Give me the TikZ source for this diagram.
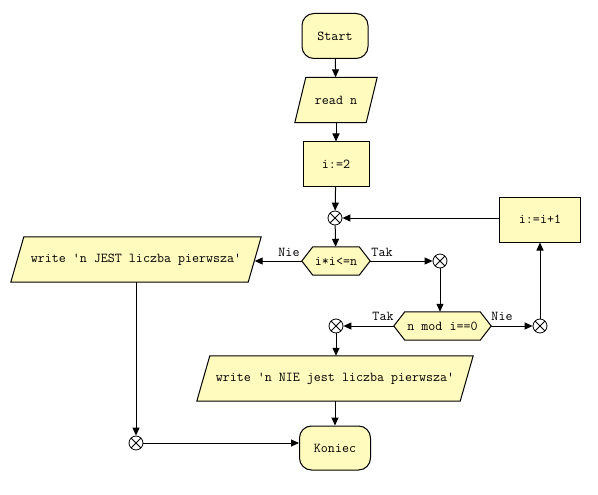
\documentclass[tikz,border=0pt]{standalone}
\usepackage{fontspec}
\usetikzlibrary{arrows.meta,backgrounds}
\definecolor{boxfill}{RGB}{255,250,190}
\begin{document}
\begin{tikzpicture}[x=1pt,y=-1pt,
  every node/.style={font=\ttfamily\fontsize{13.6}{15}\selectfont},
  base/.style={draw, line width=1pt, fill=boxfill, inner sep=0pt},
  term/.style={base, rounded corners=12pt, minimum width=66pt, minimum height=45pt},
  proc/.style={base, rectangle, minimum width=66pt, minimum height=44pt},
  io/.style={inner sep=0pt, minimum height=45pt},
  dec/.style={inner sep=0pt, minimum height=28pt},
  jn/.style={circle, draw, line width=0.8pt, fill=white, minimum size=14pt, inner sep=0pt,
    path picture={\draw[line width=0.8pt] (path picture bounding box.north west) -- (path picture bounding box.south east) (path picture bounding box.north east) -- (path picture bounding box.south west);}},
  conn/.style={line width=1pt, -{Triangle[length=8pt,width=7pt]}},
  lbl/.style={inner sep=0pt}
]
\node[term] (start) at (335,36) {Start};
\node[io, minimum width=71pt] (read) at (336,100) {read n};
\node[proc] (i2) at (336,164) {i:=2};
\node[jn] (j1) at (335,218) {};
\node[dec, minimum width=68pt] (h1) at (336,261) {i*i<=n};
\node[jn] (j2) at (440,261) {};
\node[dec, minimum width=97pt] (h2) at (442.5,326) {n mod i==0};
\node[jn] (j3) at (336,326) {};
\node[jn] (j4) at (540,326) {};
\node[proc, minimum width=81pt, minimum height=45pt] (inc) at (540,219.5) {i:=i+1};
\node[io, minimum width=237pt] (wj) at (136,259.5) {write 'n JEST liczba pierwsza'};
\node[io, minimum width=263pt] (wn) at (335,378.5) {write 'n NIE jest liczba pierwsza'};
\node[term, minimum width=71pt, minimum height=44pt] (kon) at (335,448) {Koniec};
\node[jn] (j5) at (136,443) {};
\node[lbl] (l1) at (289,252) {Nie};
\node[lbl] (l2) at (382,252) {Tak};
\node[lbl] (l3) at (383,316) {Tak};
\node[lbl] (l4) at (502,316) {Nie};
\begin{scope}[on background layer]
\fill[white] (0,0) rectangle (598,495);
\foreach \n in {h1,h2}
  \draw[line width=1pt, fill=boxfill] (\n.west) -- ([xshift=11pt]\n.north west) -- ([xshift=-11pt]\n.north east) -- (\n.east) -- ([xshift=-11pt]\n.south east) -- ([xshift=11pt]\n.south west) -- cycle;
\foreach \n/\s in {read/5.5,wj/6.5,wn/6.5}
  \draw[line width=1pt, fill=boxfill] ([xshift=\s pt]\n.north west) -- ([xshift=\s pt]\n.north east) -- ([xshift=-\s pt]\n.south east) -- ([xshift=-\s pt]\n.south west) -- cycle;
\end{scope}
\path[use as bounding box] (0,0) rectangle (598,495);
\draw[conn] (start) -- (read);
\draw[conn] (read) -- (i2);
\draw[conn] (i2) -- (j1);
\draw[conn] (j1) -- (h1);
\draw[conn] (inc.west |- j1) -- (j1);
\draw[conn] (h1.west) -- (h1.west -| wj.east);
\draw[conn] (h1.east) -- (j2);
\draw[conn] (j2) -- (j2 |- h2.north);
\draw[conn] (h2.west) -- (j3);
\draw[conn] (h2.east) -- (j4);
\draw[conn] (j4) -- (j4 |- inc.south);
\draw[conn] (j3) -- (j3 |- wn.north);
\draw[conn] (wn) -- (kon);
\draw[conn] (wj) -- (j5);
\draw[conn] (j5) -- (j5 -| kon.west);
\end{tikzpicture}
\end{document}
